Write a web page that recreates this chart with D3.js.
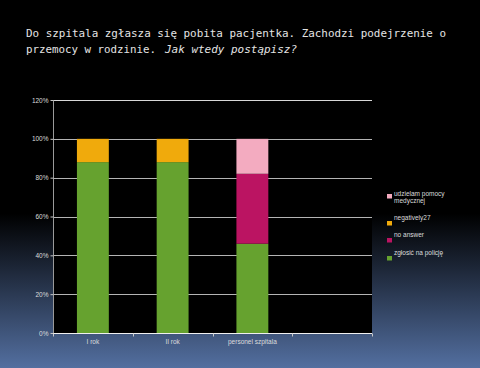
<!DOCTYPE html>
<html><head><meta charset="utf-8">
<script src="https://cdn.jsdelivr.net/npm/d3@7"></script>
<style>html,body{margin:0;padding:0;background:#000;}svg{display:block;}</style>
</head><body>
<script>
const categories = ["I rok", "II rok", "personel szpitala", ""];
const seriesNames = ["zgłosić na policję", "no answer", "negatively27", "udzielam pomocy medycznej"];
const seriesColors = ["#66a22f", "#bb1462", "#f0aa0c", "#f3abc0"];
const zglosic = [88, 88, 46, null];
const noAnswer = [0, 0, 36, null];
const negatively = [12, 12, 0, null];
const udzielam = [0, 0, 18, null];
const yTicks = [0, 20, 40, 60, 80, 100, 120];
const titleLine1 = "Do szpitala zgłasza się pobita pacjentka. Zachodzi podejrzenie o";
const titleLine2a = "przemocy w rodzinie.";
const titleLine2b = "Jak wtedy postąpisz?";

(function () {
const W = 480, H = 368;
const svg = d3.select("body").append("svg").attr("width", W).attr("height", H);
const defs = svg.append("defs");
const grad = defs.append("linearGradient").attr("id", "bg").attr("x1", 0).attr("y1", 0).attr("x2", 0).attr("y2", 1);
grad.append("stop").attr("offset", "0").attr("stop-color", "#000");
grad.append("stop").attr("offset", "0.58").attr("stop-color", "#000");
grad.append("stop").attr("offset", "0.72").attr("stop-color", "#1b2434");
grad.append("stop").attr("offset", "1").attr("stop-color", "#536fa0");
svg.append("rect").attr("width", W).attr("height", H).attr("fill", "url(#bg)");

// title
const title = svg.append("g").attr("font-family", "DejaVu Sans Mono").attr("font-size", 11).attr("fill", "#e4e4e4");
title.append("text").attr("x", 26).attr("y", 36.5).attr("textLength", 420).attr("lengthAdjust", "spacingAndGlyphs").text(titleLine1);
title.append("text").attr("x", 26).attr("y", 52.5).attr("textLength", 130).attr("lengthAdjust", "spacingAndGlyphs").text(titleLine2a);
title.append("text").attr("x", 165).attr("y", 52.5).attr("font-style", "italic").attr("textLength", 132).attr("lengthAdjust", "spacingAndGlyphs").text(titleLine2b);

const pL = 53, pR = 372, pT = 100, pB = 333;
const x = d3.scaleBand().domain(categories.map((c, i) => i)).range([pL, pR]).paddingInner(0.6).paddingOuter(0.3);
const xb = d3.scaleBand().domain(categories.map((c, i) => i)).range([pL, pR]);
const y = d3.scaleLinear().domain([0, 120]).range([pB, pT]);

// plot area
svg.append("rect").attr("x", pL).attr("y", pT).attr("width", pR - pL).attr("height", pB - pT).attr("fill", "#000");

// gridlines
svg.append("g").selectAll("line").data(yTicks.filter(d => d > 0)).join("line")
  .attr("x1", pL).attr("x2", pR).attr("y1", d => Math.round(y(d)) + 0.5).attr("y2", d => Math.round(y(d)) + 0.5)
  .attr("stroke", d => d === 120 ? "#d8d8d8" : "#b4b4b4").attr("stroke-width", 1);

// stacked bars
const table = categories.map((c, i) => ({ i, zgl: zglosic[i] || 0, no: noAnswer[i] || 0, neg: negatively[i] || 0, udz: udzielam[i] || 0 }));
const keys = ["zgl", "no", "neg", "udz"];
const stacked = d3.stack().keys(keys)(table);
svg.append("g").selectAll("g").data(stacked).join("g").attr("fill", (d, k) => seriesColors[k])
  .selectAll("rect").data(d => d.filter(p => p[1] > p[0])).join("rect")
  .attr("x", d => x(d.data.i)).attr("width", x.bandwidth())
  .attr("y", d => y(d[1])).attr("height", d => y(d[0]) - y(d[1]));

// y axis
const yAxis = d3.axisLeft(y).tickValues(yTicks).tickFormat(d => d + "%").tickSize(3).tickPadding(2);
const gy = svg.append("g").attr("transform", `translate(${pL + 0.5},0)`).call(yAxis);
gy.select(".domain").attr("stroke", "#9a9a9a").attr("d", `M0,${pT}V${pB + 2}`);
gy.selectAll(".tick line").attr("stroke", "#c8c8c8");
gy.selectAll("text").attr("fill", "#dcdcdc").attr("font-family", "Liberation Sans").attr("font-size", 6.5);

// x axis
const gx = svg.append("g").attr("transform", `translate(0,${pB + 0.5})`);
gx.append("line").attr("x1", pL).attr("x2", pR).attr("stroke", "#f0f0f0");
gx.selectAll("line.t").data(d3.range(categories.length + 1)).join("line").attr("class", "t")
  .attr("x1", i => Math.round(pL + i * xb.step()) + 0.5).attr("x2", i => Math.round(pL + i * xb.step()) + 0.5)
  .attr("y1", 0).attr("y2", 3).attr("stroke", "#c8c8c8");
gx.selectAll("text").data(categories).join("text")
  .attr("x", (c, i) => xb(i) + xb.bandwidth() / 2).attr("y", 10)
  .attr("text-anchor", "middle").attr("fill", "#dcdcdc").attr("font-family", "Liberation Sans").attr("font-size", 6.5)
  .text(c => c);

// legend
const legendItems = [
  { name: ["udzielam pomocy", "medycznej"], color: seriesColors[3], y: 196 },
  { name: ["negatively27"], color: seriesColors[2], y: 220 },
  { name: ["no answer"], color: seriesColors[1], y: 237 },
  { name: ["zgłosić na policję"], color: seriesColors[0], y: 255 }
];
const lg = svg.append("g").attr("font-family", "Liberation Sans").attr("font-size", 6.5).attr("fill", "#dcdcdc");
legendItems.forEach(it => {
  lg.append("rect").attr("x", 387).attr("y", it.y + (it.name.length > 1 ? -2 : 1)).attr("width", 5).attr("height", 4.5).attr("fill", it.color);
  it.name.forEach((n, j) => lg.append("text").attr("x", 394).attr("y", it.y + j * 6.5).text(n));
});
})();
</script>
</body></html>
